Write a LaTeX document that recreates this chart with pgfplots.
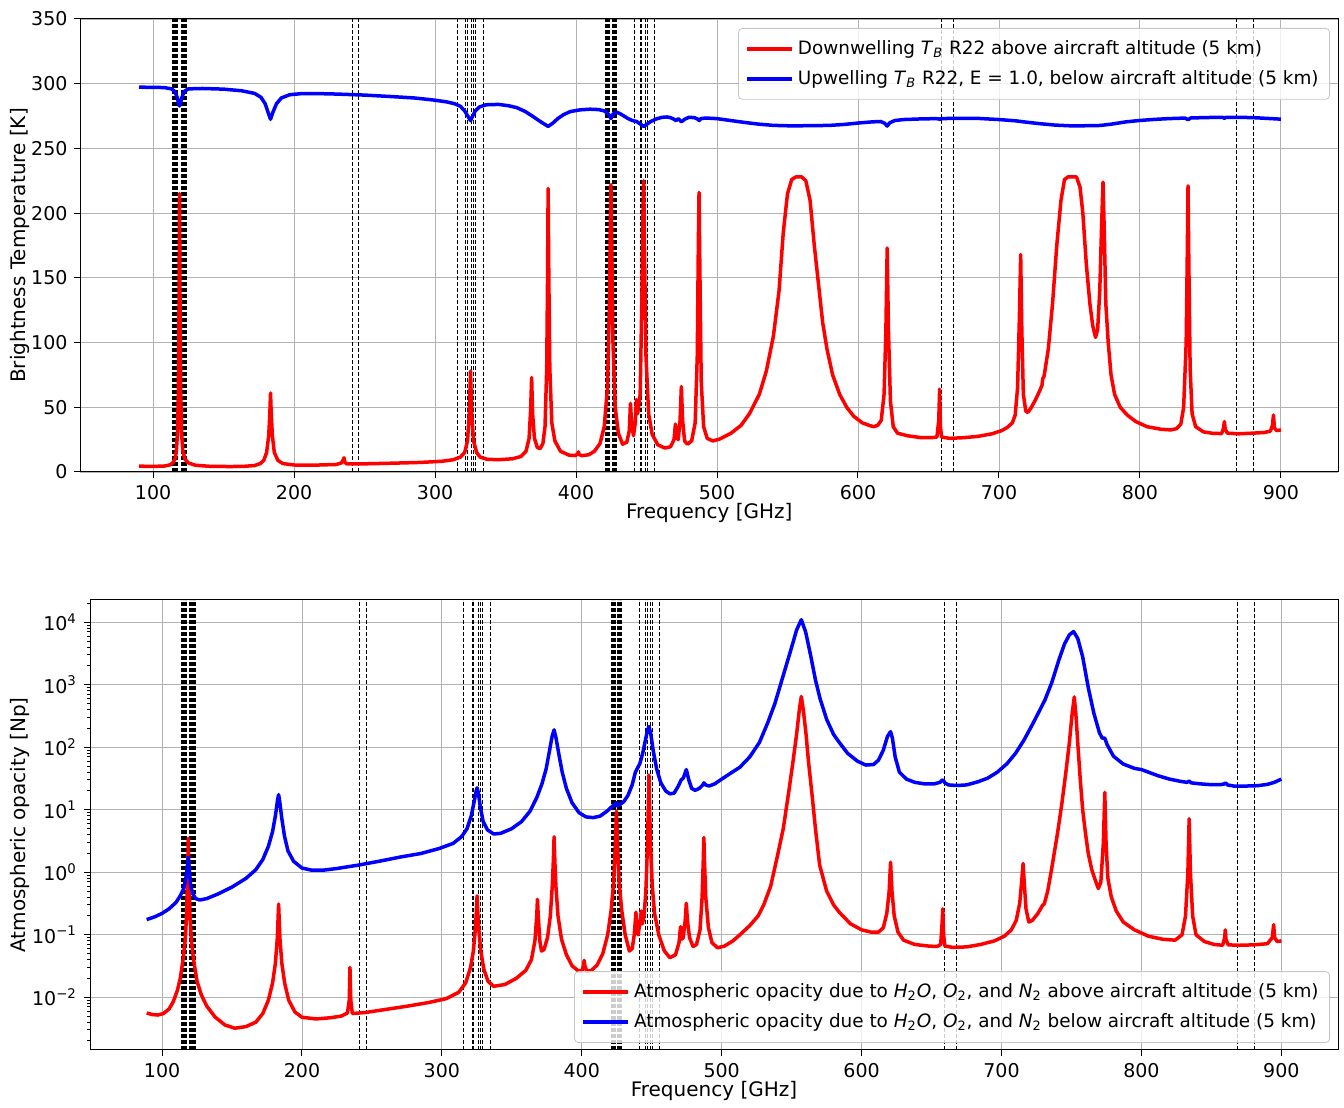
\documentclass[border=0pt]{standalone}
\usepackage{fontspec}
\setmainfont{DejaVu Sans}
\usepackage{pgfplots}
\pgfplotsset{compat=1.18}
\tikzset{vline/.style={black, line width=0.45pt, dash pattern=on 2pt off 1pt}}
\pgfplotsset{
  common/.style={
    scale only axis, xmin=48.5, xmax=940.5,
    xtick={100,200,...,900},
    tick pos=left, tick align=outside, major tick length=3pt, minor tick length=1.6pt,
    grid=major, major grid style={draw=black!30, line width=0.45pt},
    axis line style={line width=0.5pt},
    every tick/.style={black, line width=0.5pt},
    ticklabel style={font=\fontsize{9.5}{11}\selectfont},
    /pgf/number format/assume math mode=true,
    xlabel={Frequency [GHz]},
    xlabel style={font=\fontsize{10}{12}\selectfont, at={(rel axis cs:0.5,0)}, anchor=center, yshift=-20.5pt},
    ylabel style={font=\fontsize{10}{12}\selectfont},
    legend cell align=left,
    legend image code/.code={\draw[##1] (0pt,0pt) -- (22.5pt,0pt);},
    legend style={draw=black!22, fill=white, fill opacity=0.8, text opacity=1, rounded corners=2pt,
      inner xsep=3.5pt, inner ysep=4pt, row sep=2.5pt, font=\fontsize{9.2}{10.5}\selectfont},
  },
  red curve/.style={red, line width=1.75pt, line join=round},
  blue curve/.style={blue, line width=1.75pt, line join=round},
}
\def\vlines{114,114.7,115.3,115.9,116.5,117.1,117.6,119.9,120.4,121,121.6,122.2,122.8,123.4,124,241.2,245.8,315.7,321.7,322.8,326,327.5,328.9,334.6,421,421.6,422.2,422.8,423.4,424,425.5,426.1,426.7,427.3,427.9,428.5,441.4,445.4,446.6,449.2,450.5,455.6,659.5,668,868.3,880.6}
\begin{document}
\begin{tikzpicture}
% ---------------- top axis ----------------
\begin{axis}[common, name=top, at={(40.25pt,315.5pt)}, anchor=south west, width=628.75pt, height=226.5pt,
  ymin=0, ymax=350, ytick={0,50,...,350},
  ylabel={Brightness Temperature [K]},
  ylabel style={at={(rel axis cs:0,0.5)}, anchor=center, yshift=30.25pt},
  legend style={at={(1,1)}, anchor=north east, xshift=-4pt, yshift=-4.5pt}]
\expandafter\pgfplotsinvokeforeach\expandafter{\vlines}{\draw[vline] ({axis cs:#1,0}|-{rel axis cs:0,0}) -- ({axis cs:#1,0}|-{rel axis cs:0,1});}
\addplot[red curve] coordinates {
(90,4.5)(100,4.3)(108,4.6)(112,5.5)(114,7)(115.5,10)(116.5,16)(117.3,30)(117.9,60)(118.35,120)(118.75,215)(119.15,120)(119.6,60)(120.2,30)(121,17)(122.5,10)(125,7)(130,5.2)(140,4.4)(155,4.2)(165,4.4)(172,5)(176,6.5)(178.5,9)(180.5,15)(182,28)(182.8,45)(183.3,61)(183.8,45)(184.6,28)(186,15)(188.5,9)(192,6.5)(200,5.4)(215,5.3)(230,5.8)(233.5,7)(234.7,9)(235.4,11)(236,7.5)(237.5,6.2)(250,6.3)(270,6.8)(290,7.4)(305,8.3)(313,9.5)(318,11.5)(321,15)(323,24)(324.3,45)(325.15,78)(326,45)(327.3,24)(329.5,15)(332,11.5)(337,9.8)(345,9.5)(355,10.2)(361,12)(364.5,16)(366.7,26)(367.8,48)(368.5,73)(369.2,45)(370.5,26)(372.5,19)(374.5,18)(376.5,22)(378,35)(379.2,80)(379.8,150)(380.2,219)(380.7,150)(381.4,80)(382.8,38)(385,24)(389,16)(395,13)(399.5,12.7)(401.2,14)(401.7,15.5)(402.3,13.5)(404,12.6)(409,13.3)(413,16)(417,22)(420,35)(422.3,65)(423.7,130)(424.3,190)(424.76,222)(425.3,180)(426.2,100)(427.8,50)(430,30)(433,21.5)(436,23)(437.8,32)(438.6,53)(439.6,35)(440.8,28)(442,38)(442.8,56)(443.7,45)(445.5,60)(446.8,140)(447.5,200)(448,225)(448.6,170)(449.6,90)(451.5,45)(454,29)(458,21)(463,18.5)(467,19.5)(469.5,25)(470.5,37)(471.3,27)(472.5,25)(473.8,40)(474.7,66)(475.6,40)(477,24)(479,21.5)(482,24)(484.5,38)(486,90)(486.8,180)(487.25,216)(487.8,160)(488.8,70)(490.5,35)(493,26)(497,24)(502,25.5)(510,30)(517,36)(523,45)(530,60)(535,78)(540,105)(544,140)(547,185)(550,215)(553,226)(556,228)(560,228)(563,225)(566,210)(569,175)(572,145)(575,115)(578,95)(582,75)(587,60)(592,50)(597,43)(603,38)(608,36)(611,35)(614,36)(616.5,40)(618.5,60)(619.8,110)(620.7,173)(621.6,110)(623,55)(625,35)(628,30)(635,28)(645,26.5)(652,26.5)(656,27)(657.3,40)(657.9,64)(658.5,35)(659.3,27)(665,26)(675,26.5)(685,27.5)(695,29.5)(702,32)(706,34.5)(709.5,38)(711.5,44)(713.2,65)(714.5,120)(715.4,168)(716.2,110)(717.3,60)(719,47)(720.5,46)(723,50)(726,56)(729,63)(730.5,67)(731,72)(732,74)(735,95)(738,130)(741,175)(744,210)(746.5,226)(749,228)(755,228)(757.5,220)(759.5,200)(762,160)(764.5,130)(766.5,113)(768.5,104)(770,110)(771.5,140)(772.8,190)(773.8,224)(774.6,190)(775.8,130)(777.5,100)(779.5,75)(782,60)(786,50)(791,44)(797,39)(805,35)(815,33)(822,32.5)(826,33.5)(829,37)(831,50)(832.8,100)(833.6,170)(834.1,221)(834.7,160)(835.6,80)(837,45)(839.5,35)(845,31)(852,29.8)(858,29.7)(859.3,34)(859.9,39)(860.5,33)(862,30)(870,29.5)(880,30)(888,30.5)(892.5,31.5)(894,36)(894.7,44)(895.4,34)(897,32)(900,32.5)
};
\addlegendentry{Downwelling \textit{T}\textsubscript{\textit{B}} R22 above aircraft altitude (5 km)}
\addplot[blue curve] coordinates {
(90,297.3)(100,297.2)(108,297)(113,296)(115.5,294)(117.2,289)(118.2,284)(118.75,282.8)(119.3,284)(120.3,289)(122,294)(125,296)(135,296.3)(150,295.8)(163,294.5)(172,292.5)(176.5,289.5)(179.5,284.5)(181.5,278)(183.3,272.5)(185,278)(187.5,284.5)(191,289)(197,291.5)(205,292.3)(215,292.4)(230,292)(250,291.2)(270,290)(285,289)(298,287.5)(308,286)(314,284.5)(318,282.5)(321,279)(323.5,274.5)(325.15,271.5)(326.5,274.5)(328.5,279)(331.5,282)(336,283.7)(345,284)(352,283)(358,281.5)(364,278.5)(369,275)(373,272)(376.5,269.5)(380.2,267)(383.5,269.5)(387,273)(391,276)(396,278.5)(403,279.8)(410,280.3)(416,280)(420,279)(423,276.5)(424.76,273)(426.2,276.5)(428.5,278)(431,277)(434,275)(437,273)(440,271.5)(443,270.8)(446,268.5)(448,267)(450,268.5)(453,270.8)(457,272.8)(461,274)(464.5,274.3)(467,273.8)(469.5,272.5)(471,271.5)(472.5,273)(474.7,270.5)(477,272.5)(480,274)(484,273.8)(486.5,272.5)(487.3,271.5)(488.5,273)(492,273.5)(500,273)(510,271.5)(520,270)(530,268.7)(540,267.8)(550,267.5)(560,267.5)(570,267.6)(580,267.8)(590,268.5)(600,269.6)(610,270.5)(616,270.8)(618.8,269.5)(620.7,267.3)(622.5,269.8)(626,271.5)(632,272.3)(645,272.8)(655,273)(657.5,272.8)(658.2,272.2)(659,273)(670,273.3)(685,273.2)(700,272.3)(712,271.3)(715.4,270.8)(720,270.2)(730,269)(740,268)(750,267.5)(760,267.5)(770,267.6)(774,268)(780,268.8)(790,270.5)(800,271.6)(810,272.4)(820,273)(828,273.3)(832,273.4)(834.1,272.2)(836,273.5)(845,273.8)(855,274)(859,273.9)(859.9,273.2)(861,274)(870,274)(880,273.8)(890,273.2)(895,272.9)(900,272.6)
};
\addlegendentry{Upwelling \textit{T}\textsubscript{\textit{B}} R22, E = 1.0, below aircraft altitude (5 km)}
\end{axis}
% ---------------- bottom axis ----------------
\begin{axis}[common, name=bottom, at={(45pt,26.5pt)}, anchor=south west, width=624pt, height=225pt,
  ymode=log, ymin=0.001435, ymax=22750,
  ytick={0.01,0.1,1,10,100,1000,10000},
  minor ytick={0.002,0.003,0.004,0.005,0.006,0.007,0.008,0.009,0.02,0.03,0.04,0.05,0.06,0.07,0.08,0.09,0.2,0.3,0.4,0.5,0.6,0.7,0.8,0.9,2,3,4,5,6,7,8,9,20,30,40,50,60,70,80,90,200,300,400,500,600,700,800,900,2000,3000,4000,5000,6000,7000,8000,9000,20000},
  yticklabels={10\textsuperscript{−2},10\textsuperscript{−1},10\textsuperscript{0},10\textsuperscript{1},10\textsuperscript{2},10\textsuperscript{3},10\textsuperscript{4}},
  ylabel={Atmospheric opacity [Np]},
  ylabel style={at={(rel axis cs:0,0.5)}, anchor=center, yshift=35pt},
  legend style={at={(1,0)}, anchor=south east, xshift=-4pt, yshift=3.5pt}]
\expandafter\pgfplotsinvokeforeach\expandafter{\vlines}{\draw[vline] ({axis cs:#1,1}|-{rel axis cs:0,0}) -- ({axis cs:#1,1}|-{rel axis cs:0,1});}
\addplot[red curve] coordinates {
(89,0.0056)(93,0.0053)(97,0.0052)(101,0.0055)(105,0.0065)(108,0.0085)(111,0.013)(113,0.02)(115,0.04)(116.5,0.08)(117.5,0.2)(118.2,0.7)(118.75,3.5)(119.3,0.7)(120,0.2)(121,0.08)(122.5,0.04)(125,0.018)(128,0.011)(132,0.0072)(138,0.0048)(145,0.0036)(152,0.0032)(160,0.0034)(167,0.004)(172,0.0055)(176,0.009)(179,0.017)(181,0.035)(182.4,0.09)(183.31,0.31)(184.2,0.09)(185.6,0.035)(187.6,0.017)(190.5,0.009)(195,0.0058)(200,0.0048)(210,0.0045)(220,0.0047)(228,0.005)(232.5,0.0056)(233.8,0.009)(234.3,0.03)(234.9,0.009)(236,0.0055)(245,0.0057)(260,0.0064)(275,0.0072)(290,0.0082)(303,0.0095)(312,0.012)(317,0.017)(320.5,0.03)(322.5,0.055)(324,0.13)(324.7,0.25)(325.15,0.42)(325.6,0.25)(326.3,0.13)(327.8,0.055)(330,0.028)(333,0.018)(337,0.015)(345,0.016)(353,0.02)(360,0.027)(364,0.04)(366.5,0.08)(367.8,0.2)(368.3,0.37)(368.9,0.2)(370,0.08)(371.2,0.055)(373,0.058)(375.5,0.09)(377.5,0.2)(378.9,0.6)(379.7,1.6)(380.2,3.7)(380.7,1.6)(381.5,0.6)(383,0.2)(385.5,0.085)(389,0.048)(393,0.032)(397,0.027)(400,0.026)(401.2,0.032)(401.7,0.039)(402.2,0.032)(403.5,0.026)(407,0.027)(411,0.033)(415,0.05)(418.5,0.1)(421,0.25)(422.8,0.7)(423.9,2.5)(424.76,9.5)(425.6,2.5)(426.7,0.7)(428.5,0.25)(431,0.1)(434,0.055)(436,0.06)(437.5,0.1)(438.7,0.23)(439.3,0.12)(440.2,0.1)(441.5,0.15)(442.5,0.24)(443.3,0.15)(444.5,0.2)(445.8,0.5)(446.9,2.5)(447.5,10)(448,36)(448.5,10)(449.2,2.5)(450.4,0.6)(452,0.22)(455,0.1)(459,0.055)(463,0.043)(467,0.048)(469.5,0.075)(470.6,0.135)(471.4,0.085)(472.5,0.09)(473.9,0.17)(474.7,0.32)(475.5,0.17)(477,0.09)(479.5,0.065)(482,0.07)(484.5,0.12)(486,0.4)(486.8,1.5)(487.25,3.6)(487.7,1.5)(488.6,0.4)(490.5,0.13)(493,0.075)(497,0.062)(502,0.066)(508,0.08)(513,0.1)(520,0.14)(526,0.2)(530,0.3)(535,0.6)(540,1.9)(544,5)(548,20)(551,60)(553.5,160)(555.5,400)(556.9,650)(558.3,400)(560.3,160)(562,60)(564.5,18)(567,5)(570,1.3)(575,0.5)(580,0.3)(584,0.23)(592,0.15)(600,0.12)(607,0.11)(612,0.11)(615.5,0.13)(618,0.22)(619.7,0.5)(620.7,1.45)(621.7,0.5)(623.3,0.2)(626,0.11)(630,0.082)(638,0.07)(648,0.066)(654,0.065)(656.5,0.07)(657.5,0.15)(658,0.26)(658.6,0.1)(659.5,0.066)(665,0.063)(675,0.064)(685,0.07)(695,0.08)(702,0.095)(707,0.12)(710.5,0.17)(713,0.32)(714.6,0.8)(715.4,1.38)(716.2,0.7)(717.5,0.26)(719.5,0.16)(722,0.17)(726,0.22)(729.5,0.3)(730.5,0.31)(731,0.34)(733,0.5)(736,1.2)(740,4.2)(743,12)(746,40)(748.5,120)(750.5,350)(752,640)(753.3,300)(754.7,100)(756.3,30)(758,10)(760,4.2)(762,2)(764.5,1.1)(767,0.75)(769.2,0.55)(771,0.7)(772.8,3)(773.8,19)(774.7,3)(776,0.8)(778.5,0.4)(782,0.24)(787,0.16)(795,0.12)(805,0.095)(815,0.085)(824,0.082)(829,0.1)(831.5,0.2)(833.2,1.0)(834.1,7.2)(835,1.0)(836.6,0.2)(839,0.1)(845,0.078)(852,0.07)(858,0.068)(859.5,0.09)(859.9,0.12)(860.4,0.085)(862,0.069)(870,0.068)(880,0.069)(890,0.072)(893.5,0.09)(894.5,0.145)(895.2,0.09)(897,0.078)(900,0.08)
};
\addlegendentry{Atmospheric opacity due to \textit{H}\textsubscript{2}\textit{O}, \textit{O}\textsubscript{2}, and \textit{N}\textsubscript{2} above aircraft altitude (5 km)}
\addplot[blue curve] coordinates {
(89,0.175)(95,0.195)(100,0.22)(105,0.26)(110,0.33)(113,0.42)(115.5,0.55)(117,0.8)(118,1.2)(118.75,1.75)(119.5,1.1)(120.5,0.6)(122,0.45)(124,0.38)(127,0.36)(132,0.38)(140,0.45)(150,0.58)(160,0.8)(167,1.1)(172,1.6)(176,2.6)(179,4.5)(181,8)(182.5,14)(183.31,17.5)(184.2,13)(185.5,7.5)(187.5,3.8)(190,2.2)(194,1.5)(200,1.17)(207,1.08)(215,1.08)(225,1.15)(240,1.3)(255,1.5)(270,1.75)(285,2.0)(298,2.4)(308,2.9)(314,3.7)(318,5)(321,8)(323.2,14)(324.5,20)(325.15,22.5)(326,19)(327.5,11)(329.5,6.5)(332.5,4.8)(337,4.1)(342,4.2)(350,5)(357,6.5)(363,9.5)(368,16)(371.5,26)(374.5,45)(377,90)(378.8,150)(380.2,190)(381.6,140)(383.5,80)(386,40)(389,22)(393,13)(398,9)(403,7.7)(408,7.5)(413,7.9)(418,9.5)(422,11.5)(424.2,12.5)(424.76,13)(425.5,11.5)(427,12)(430,13.5)(433,17)(436,25)(438.3,40)(439.5,45)(441.5,55)(443.5,80)(445.5,130)(447,190)(448,215)(449.2,170)(451,90)(453.5,45)(456.5,27)(460,20)(463,18)(466,18.5)(469,24)(471,30)(472.5,32)(474.7,44)(476.5,30)(478.5,22)(481,20.5)(484,22)(486.5,25)(487.3,27)(488.5,25)(491,24)(495,26)(500,31)(506,38)(513,48)(520,70)(527,120)(533,250)(538,500)(542,1000)(546,2000)(550,4000)(553.5,7500)(556.9,11000)(560,7000)(563.5,3000)(567,1200)(570.3,600)(575,280)(580,160)(584,120)(590,80)(597,60)(603,52)(608.5,53)(612,62)(615.5,90)(618.5,150)(620.7,178)(622,140)(624,70)(627,40)(632,31)(638,27.5)(645,26)(652,26)(656,27.5)(657.3,29.5)(658.2,30)(659.5,27)(662,25)(668,24.5)(675,25)(683,28)(690,32)(697,40)(704,55)(710,80)(716,130)(722,230)(727,380)(731,570)(736,1100)(741,2500)(745,4500)(748.5,6300)(751.5,7100)(754.5,5500)(758,2800)(762,900)(766,350)(770,170)(772,140)(773.8,140)(775.5,110)(780,72)(787,54)(795,46)(800,44)(812,35)(820,31)(828,28.5)(832.5,27.5)(834.1,28.8)(835.5,27)(842,26)(850,25.2)(856,25.2)(859,25.8)(860,27)(861.5,25)(866,24)(875,24)(883,24.3)(890,25.5)(895,27.5)(900,31)
};
\addlegendentry{Atmospheric opacity due to \textit{H}\textsubscript{2}\textit{O}, \textit{O}\textsubscript{2}, and \textit{N}\textsubscript{2} below aircraft altitude (5 km)}
\end{axis}
\path (0pt,0pt) rectangle (672pt,551.5pt);
\end{tikzpicture}
\end{document}
